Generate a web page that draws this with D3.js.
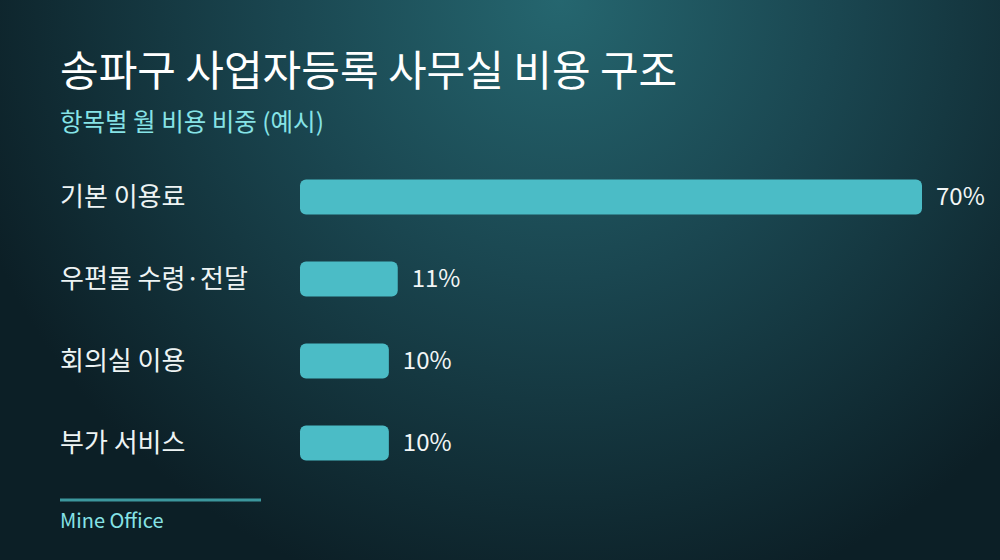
<!DOCTYPE html>
<html>
<head>
<meta charset="utf-8">
<title>송파구 사업자등록 사무실 비용 구조</title>
<script src="https://d3js.org/d3.v7.min.js"></script>
<style>
  html, body { margin: 0; padding: 0; background: #0d222a; }
  #chart { width: 1000px; height: 560px; }
  text { font-family: "Noto Sans CJK KR", "Noto Sans", sans-serif; }
</style>
</head>
<body>
<div id="chart"></div>
<script type="text/javascript">
  // data
  const categories = ["기본 이용료", "우편물 수령·전달", "회의실 이용", "부가 서비스"];
  const shares = [70, 11, 10, 10];
  const valueLabels = ["70%", "11%", "10%", "10%"];

  const width = 1000;
  const height = 560;

  const svg = d3.select("#chart")
    .append("svg")
    .attr("width", width)
    .attr("height", height);

  // background glow, lighter at the top middle
  const defs = svg.append("defs");
  const grad = defs.append("radialGradient")
    .attr("id", "bg")
    .attr("gradientUnits", "userSpaceOnUse")
    .attr("cx", 560).attr("cy", 0).attr("r", 620);
  grad.append("stop").attr("offset", "0%").attr("stop-color", "#25666f");
  grad.append("stop").attr("offset", "45%").attr("stop-color", "#1a4650");
  grad.append("stop").attr("offset", "100%").attr("stop-color", "#0c1f26");

  svg.append("rect")
    .attr("width", width)
    .attr("height", height)
    .attr("fill", "url(#bg)");

  // titles
  svg.append("text")
    .attr("x", 60).attr("y", 86)
    .attr("fill", "#ffffff")
    .attr("font-size", 42)
    .attr("font-weight", 400)
    .text("송파구 사업자등록 사무실 비용 구조");

  svg.append("text")
    .attr("x", 60).attr("y", 131)
    .attr("fill", "#86e3e6")
    .attr("font-size", 24.5)
    .text("항목별 월 비용 비중 (예시)");

  // scales
  const x = d3.scaleLinear()
    .domain([0, 70])
    .range([300, 922]);

  const y = d3.scaleBand()
    .domain(categories)
    .range([156, 484])
    .paddingInner(0.573)
    .paddingOuter(0.286);

  const rows = svg.append("g")
    .selectAll("g")
    .data(categories)
    .enter()
    .append("g");

  rows.append("text")
    .attr("x", 60)
    .attr("y", d => y(d) + y.bandwidth() / 2)
    .attr("dy", "0.35em")
    .attr("fill", "#eef4f4")
    .attr("font-size", 26)
    .text(d => d);

  rows.append("rect")
    .attr("x", x(0))
    .attr("y", d => y(d))
    .attr("width", (d, i) => x(shares[i]) - x(0))
    .attr("height", y.bandwidth())
    .attr("rx", 6)
    .attr("fill", "#4bbcc6");

  rows.append("text")
    .attr("x", (d, i) => x(shares[i]) + 14)
    .attr("y", d => y(d) + y.bandwidth() / 2)
    .attr("dy", "0.35em")
    .attr("fill", "#f2f6f6")
    .attr("font-size", 24)
    .text((d, i) => valueLabels[i]);

  // footer
  svg.append("line")
    .attr("x1", 60).attr("x2", 261)
    .attr("y1", 500).attr("y2", 500)
    .attr("stroke", "#3c979d")
    .attr("stroke-width", 3);

  svg.append("text")
    .attr("x", 60).attr("y", 528)
    .attr("fill", "#86e3e6")
    .attr("font-size", 20)
    .text("Mine Office");
</script>
</body>
</html>
